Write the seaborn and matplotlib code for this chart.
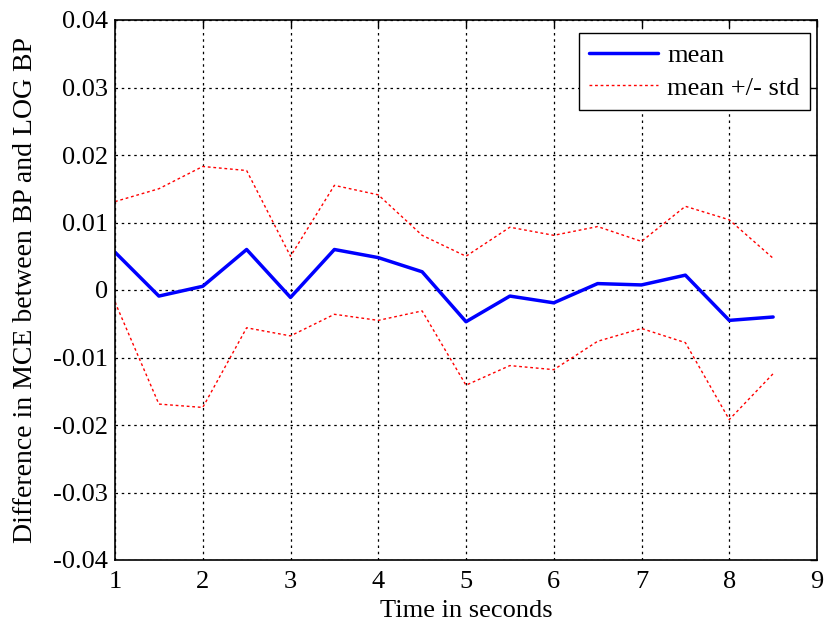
import numpy as np
import pandas as pd
import matplotlib
matplotlib.use("Agg")
import matplotlib.pyplot as plt
import seaborn as sns

time = [1, 1.5, 2, 2.5, 3, 3.5, 4, 4.5, 5, 5.5, 6, 6.5, 7, 7.5, 8, 8.5]
mean = [0.0056, -0.0009, 0.00055, 0.0060, -0.0011, 0.0060, 0.0048, 0.0027,
        -0.0047, -0.0009, -0.0019, 0.00095, 0.00075, 0.0022, -0.0045, -0.0040]
upper = [0.0131, 0.0150, 0.0183, 0.0177, 0.0050, 0.0155, 0.0141, 0.0081,
         0.0050, 0.0093, 0.0081, 0.0094, 0.0072, 0.0124, 0.0104, 0.0047]
lower = [-0.0018, -0.0169, -0.0174, -0.0056, -0.0068, -0.0036, -0.0045, -0.0031,
         -0.0141, -0.0112, -0.0118, -0.0076, -0.0057, -0.0078, -0.0192, -0.0124]
xticks = [1, 2, 3, 4, 5, 6, 7, 8, 9]
yticks = [-0.04, -0.03, -0.02, -0.01, 0, 0.01, 0.02, 0.03, 0.04]
ytick_labels = ["-0.04", "-0.03", "-0.02", "-0.01", "0", "0.01", "0.02", "0.03", "0.04"]

sns.set_style("white")
plt.rcParams['font.family'] = ['Liberation Serif', 'DejaVu Serif']
plt.rcParams['mathtext.fontset'] = 'stix'
plt.rcParams['text.color'] = 'black'
plt.rcParams['axes.labelcolor'] = 'black'

fig = plt.figure(figsize=(8.24, 6.26), dpi=100)
ax = fig.add_axes([115/824, 1 - 560/626, (817 - 115)/824, (560 - 20)/626])

df = pd.DataFrame({"t": time, "mean": mean, "upper": upper, "lower": lower})
sns.lineplot(data=df, x="t", y="mean", ax=ax, color="#0000ff", lw=2.5, label="mean")
sns.lineplot(data=df, x="t", y="upper", ax=ax, color="#ff0000", lw=1.0,
             linestyle=(0, (2, 2)), label="mean +/- std")
sns.lineplot(data=df, x="t", y="lower", ax=ax, color="#ff0000", lw=1.0,
             linestyle=(0, (2, 2)), label="_nolegend_")

ax.set_xlim(1, 9)
ax.set_ylim(-0.04, 0.04)
ax.set_xticks(xticks)
ax.set_xticklabels([str(v) for v in xticks])
ax.set_yticks(yticks)
ax.set_yticklabels(ytick_labels)
ax.grid(True, color="black", linestyle=(0, (2, 3)), lw=0.9)
ax.tick_params(direction="in", top=True, right=True, length=5, width=1,
               labelsize=19, colors="black")
ax.tick_params(axis="y", pad=5)
ax.tick_params(axis="x", pad=8)
for s in ax.spines.values():
    s.set_visible(True)
    s.set_color("black")
    s.set_linewidth(1.2)
ax.set_xlabel("Time in seconds", fontsize=19, labelpad=5, color="black")
ax.set_ylabel("Difference in MCE between BP and LOG BP", fontsize=20, labelpad=11,
              color="black")

leg = ax.legend(loc="upper right", fontsize=19, frameon=True, fancybox=False,
                framealpha=1, edgecolor="black", borderpad=0.4, handlelength=2.6,
                handletextpad=0.35, borderaxespad=0, labelspacing=0.35)
leg.get_frame().set_linewidth(1.0)
for t in leg.get_texts():
    t.set_color("black")
leg.set_bbox_to_anchor(((810 - 115)/702, (560 - 33)/540), transform=ax.transAxes)

fig.savefig("out.png", dpi=100)
